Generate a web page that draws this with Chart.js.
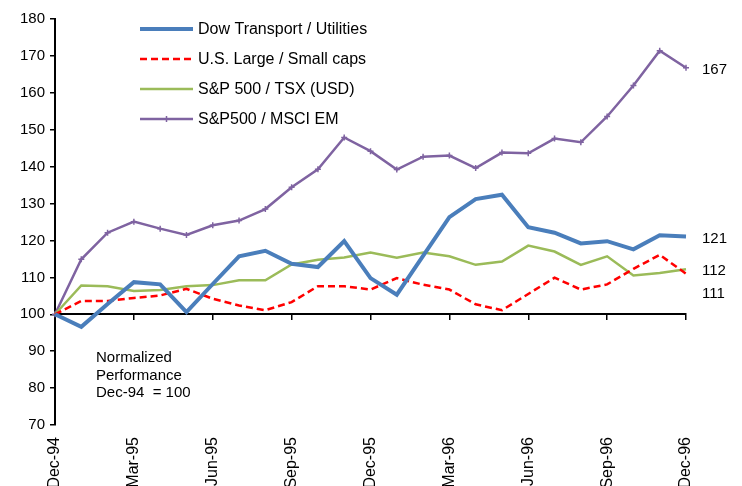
<!DOCTYPE html>
<html><head><meta charset="utf-8">
<script src="https://cdn.jsdelivr.net/npm/chart.js@4/dist/chart.umd.min.js"></script>
<style>html,body{margin:0;padding:0;background:#fff;overflow:hidden}#wrap{width:742px;height:486px}</style>
</head><body><div id="wrap"><canvas id="c" width="742" height="486"></canvas></div>
<script>
const labels = ['Dec-94','Jan-95','Feb-95','Mar-95','Apr-95','May-95','Jun-95','Jul-95','Aug-95','Sep-95','Oct-95','Nov-95','Dec-95',
  'Jan-96','Feb-96','Mar-96','Apr-96','May-96','Jun-96','Jul-96','Aug-96','Sep-96','Oct-96','Nov-96','Dec-96'];
const dowTransportUtilities = [100, 96.6, 102.8, 108.7, 108.1, 100.6, 108.2, 115.7, 117.2, 113.7, 112.8, 119.8, 109.8, 105.3, 115.8, 126.3, 131.2, 132.4, 123.6, 122.1, 119.2, 119.8, 117.6, 121.4, 121.1];
const largeSmallCaps = [100, 103.6, 103.6, 104.4, 105.1, 106.9, 104.2, 102.4, 101.1, 103.3, 107.6, 107.6, 106.7, 109.8, 108.0, 106.7, 102.7, 101.1, 105.5, 109.9, 106.7, 108.1, 112.3, 116.1, 111.0];
const spTsx = [100, 107.8, 107.6, 106.3, 106.6, 107.6, 107.9, 109.2, 109.2, 113.5, 114.8, 115.4, 116.7, 115.3, 116.7, 115.7, 113.4, 114.3, 118.6, 117.0, 113.4, 115.7, 110.5, 111.2, 112.2];
const spMsciEm = [100, 114.9, 122.1, 125.1, 123.2, 121.5, 124.1, 125.4, 128.5, 134.4, 139.3, 147.9, 144.2, 139.2, 142.7, 143.0, 139.6, 143.8, 143.6, 147.6, 146.6, 153.6, 162.0, 171.4, 166.8];
const seriesNames = ['Dow Transport / Utilities', 'U.S. Large / Small caps', 'S&P 500 / TSX (USD)', 'S&P500 / MSCI EM'];
const noteLines = ['Normalized', 'Performance', 'Dec-94  = 100'];
const yMin = 70, yMax = 180, yStep = 10, baseValue = 100;

const FONT = "'Liberation Sans', Arial, sans-serif";

const legendPlugin = {
  id: 'customLegend',
  afterDraw(chart) {
    const {ctx, chartArea} = chart;
    const x0 = chartArea.left + 85, y0 = chartArea.top + 10, step = 30, len = 53;
    chart.data.datasets.forEach((ds, i) => {
      const y = y0 + i * step;
      ctx.save();
      ctx.strokeStyle = ds.borderColor;
      ctx.lineWidth = ds.borderWidth;
      ctx.setLineDash(ds.borderDash || []);
      ctx.beginPath(); ctx.moveTo(x0, y); ctx.lineTo(x0 + len, y); ctx.stroke();
      ctx.setLineDash([]);
      if (ds.pointRadius > 0) {
        ctx.strokeStyle = ds.pointBorderColor || ds.borderColor;
        ctx.fillStyle = ds.pointBorderColor || ds.borderColor;
        ctx.lineWidth = ds.pointBorderWidth;
        Chart.helpers.drawPoint(ctx, {pointStyle: ds.pointStyle, radius: ds.pointRadius, borderWidth: ds.pointBorderWidth, rotation: 0}, x0 + len / 2, y);
      }
      ctx.fillStyle = '#000';
      ctx.font = '16px ' + FONT;
      ctx.textBaseline = 'middle';
      ctx.textAlign = 'left';
      ctx.fillText(ds.label, x0 + len + 5, y + 1);
      ctx.restore();
    });
  }
};

const notesPlugin = {
  id: 'notes',
  afterDraw(chart) {
    const {ctx, chartArea, scales} = chart;
    const ys = scales.y;
    ctx.save();
    ctx.fillStyle = '#000';
    ctx.textBaseline = 'middle';
    ctx.textAlign = 'left';
    ctx.font = '15px ' + FONT;
    const ends = chart.data.datasets.map(ds => {
      const v = ds.data[ds.data.length - 1];
      return {text: String(Math.round(v)), y: ys.getPixelForValue(v) + 2};
    }).sort((a, b) => a.y - b.y);
    for (let i = 1; i < ends.length; i++) {
      if (ends[i].y - ends[i - 1].y < 23) ends[i].y = ends[i - 1].y + 23;
    }
    ends.forEach(e => ctx.fillText(e.text, chartArea.right + 16, e.y));
    ctx.font = '15px ' + FONT;
    const nx = chartArea.left + 41;
    const ny = ys.getPixelForValue(88.1);
    noteLines.forEach((t, i) => ctx.fillText(t, nx, ny + i * 17.5));
    ctx.restore();
  }
};

const ctx = document.getElementById('c').getContext('2d');
new Chart(ctx, {
  type: 'line',
  data: {
    labels: labels,
    datasets: [
      {label: seriesNames[0], data: dowTransportUtilities, borderColor: '#4A7EBB', borderWidth: 4, pointRadius: 0, tension: 0},
      {label: seriesNames[1], data: largeSmallCaps, borderColor: '#FF0000', borderWidth: 2.5, borderDash: [7, 4], pointRadius: 0, tension: 0},
      {label: seriesNames[2], data: spTsx, borderColor: '#9BBB59', borderWidth: 2.5, pointRadius: 0, tension: 0},
      {label: seriesNames[3], data: spMsciEm, borderColor: '#7F63A1', borderWidth: 2.5, pointRadius: 3, pointStyle: 'cross', pointBorderWidth: 1.5, pointBorderColor: '#7F63A1', pointBackgroundColor: '#7F63A1', tension: 0}
    ]
  },
  options: {
    responsive: false,
    animation: false,
    devicePixelRatio: 1,
    layout: {padding: {top: 19, right: 56, left: 0, bottom: 0}},
    plugins: {legend: {display: false}, tooltip: {enabled: false}},
    scales: {
      x: {
        type: 'category', position: 'bottom',
        grid: {display: false, drawTicks: false}, border: {display: false},
        ticks: {autoSkip: false, minRotation: 90, maxRotation: 90, padding: 12, color: '#000',
          font: {family: FONT, size: 16},
          callback: (v, i) => (i % 3 === 0 ? labels[i] : '')},
        afterFit: s => { s.height = 61; }
      },
      x2: {
        type: 'category', axis: 'x', position: {y: baseValue},
        grid: {drawOnChartArea: false, tickLength: 5, lineWidth: 1.5,
          color: c => (c.index % 3 === 0 ? '#000' : 'rgba(0,0,0,0)')},
        border: {color: '#000', width: 2},
        ticks: {display: false}
      },
      y: {
        min: yMin, max: yMax,
        ticks: {stepSize: yStep, color: '#000', padding: 5, font: {family: FONT, size: 15}},
        grid: {drawOnChartArea: false, tickLength: 5, color: '#000', lineWidth: 1.5},
        border: {color: '#000', width: 2},
        afterFit: s => { s.width = 55; }
      }
    }
  },
  plugins: [legendPlugin, notesPlugin]
});
</script>
</body></html>
